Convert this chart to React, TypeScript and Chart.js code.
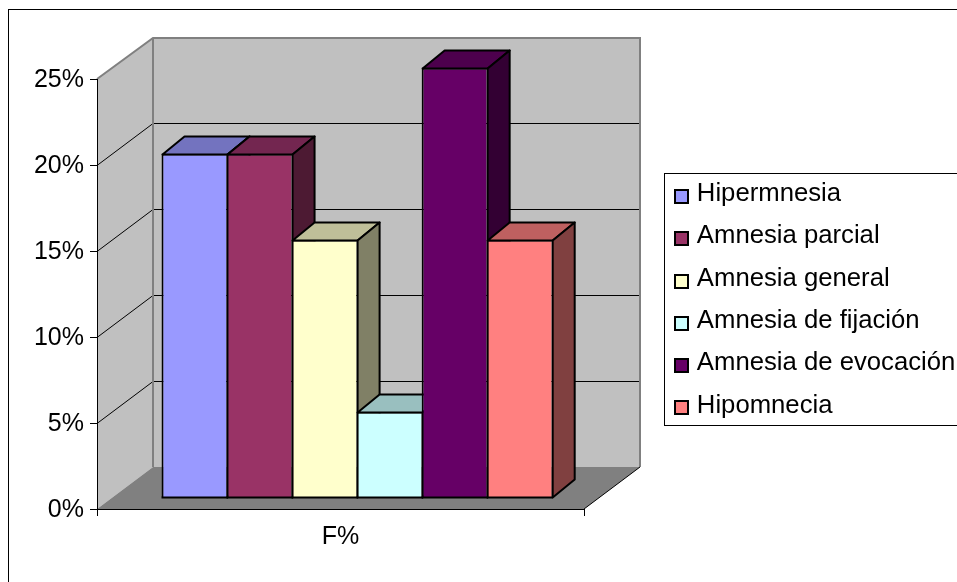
import React, { useEffect, useRef } from "react";
import { Chart, registerables } from "chart.js";

Chart.register(...registerables);

const categories = ["F%"];
const seriesNames = ["Hipermnesia", "Amnesia parcial", "Amnesia general", "Amnesia de fijación", "Amnesia de evocación", "Hipomnecia"];
const seriesValues = [20, 20, 15, 5, 25, 15];
const frontColors = ["#9999FF", "#993366", "#FFFFCC", "#CCFFFF", "#660066", "#FF8080"];
const topColors = ["#7373BF", "#732650", "#BFBF99", "#99BFBF", "#4D004D", "#BF6060"];
const sideColors = ["#4D4D80", "#4D1A33", "#808066", "#668080", "#330033", "#804040"];
const yTicks = [0, 5, 10, 15, 20, 25];

const FONT = "'Liberation Sans', Arial, sans-serif";
const WALL_DX = 56;
const WALL_DY = -42;
const BAR_SHIFT_X = 16.1;
const BAR_SHIFT_Y = -11.5;
const BAR_DX = 22;
const BAR_DY = -18;

const depthPlugin = {
  id: "depth",
  beforeDraw(chart: any) {
    const { ctx, chartArea: a, scales } = chart;
    const y = scales.y;
    ctx.save();
    ctx.fillStyle = "#fff";
    ctx.fillRect(0, 0, chart.width, chart.height);
    ctx.strokeStyle = "#000";
    ctx.lineWidth = 1;
    ctx.strokeRect(8.5, 9.5, 1000, 1000);
    const poly = (pts: number[][], fill: string) => {
      ctx.beginPath();
      pts.forEach((p, i) => (i ? ctx.lineTo(p[0], p[1]) : ctx.moveTo(p[0], p[1])));
      ctx.closePath();
      ctx.fillStyle = fill;
      ctx.fill();
    };
    const L = a.left, R = a.right, T = y.getPixelForValue(25), B = y.getPixelForValue(0);
    const BX = L + WALL_DX, RX = R + WALL_DX, TY = T + WALL_DY + 1, BY = B + WALL_DY;
    poly([[L, B], [BX, BY], [BX, TY], [L, T]], "#C0C0C0");
    poly([[BX, TY], [RX, TY], [RX, BY], [BX, BY]], "#C0C0C0");
    poly([[L, B], [BX, BY], [RX, BY], [R, B]], "#808080");
    ctx.strokeStyle = "#000";
    ctx.lineWidth = 1;
    yTicks.slice(1, -1).forEach((v) => {
      const py = Math.round(y.getPixelForValue(v)) + 0.5;
      ctx.beginPath();
      ctx.moveTo(L, py);
      ctx.lineTo(BX, py + WALL_DY);
      ctx.lineTo(RX, py + WALL_DY);
      ctx.stroke();
    });
    ctx.strokeStyle = "#808080";
    ctx.lineWidth = 2;
    ctx.beginPath();
    ctx.moveTo(L, T);
    ctx.lineTo(BX, TY);
    ctx.lineTo(RX, TY);
    ctx.lineTo(RX, BY);
    ctx.moveTo(BX, TY);
    ctx.lineTo(BX, BY);
    ctx.stroke();
    ctx.strokeStyle = "#000";
    ctx.lineWidth = 1;
    ctx.beginPath();
    ctx.moveTo(R, B);
    ctx.lineTo(RX, BY);
    ctx.stroke();
    ctx.restore();
  },
  // Bars are painted left to right in afterDatasetsDraw, so each one overlaps the side of the previous.
  beforeDatasetDraw() {
    return false;
  },
  afterDatasetsDraw(chart: any) {
    const ctx = chart.ctx;
    ctx.save();
    ctx.translate(BAR_SHIFT_X, BAR_SHIFT_Y);
    seriesNames.forEach((_, i) => {
      const meta = chart.getDatasetMeta(i);
      const el = meta.data[0];
      el.draw(ctx);
      const { x, y, width } = el.getProps(["x", "y", "width"], true);
      const l = x - width / 2 + 1, r = x + width / 2 + 1, t = y + 1, b = meta.vScale.getPixelForValue(0);
      const shape = (pts: number[][], fill: string) => {
        ctx.beginPath();
        pts.forEach((p, n) => (n ? ctx.lineTo(p[0], p[1]) : ctx.moveTo(p[0], p[1])));
        ctx.closePath();
        ctx.fillStyle = fill;
        ctx.fill();
        ctx.strokeStyle = "#000";
        ctx.lineWidth = 2;
        ctx.lineJoin = "round";
        ctx.stroke();
      };
      shape([[l, t], [l + BAR_DX, t + BAR_DY], [r + BAR_DX, t + BAR_DY], [r, t]], topColors[i]);
      shape([[r, t], [r + BAR_DX, t + BAR_DY], [r + BAR_DX, b + BAR_DY], [r, b]], sideColors[i]);
      ctx.beginPath();
      ctx.moveTo(l - 1, b);
      ctx.lineTo(r, b);
      ctx.stroke();
    });
    ctx.restore();
  },
  afterLayout(chart: any) {
    const lg = chart.legend;
    if (!lg) return;
    const w = lg.width, h = lg.height;
    lg.left = 657.4;
    lg.top = 164.5;
    lg.right = lg.left + w;
    lg.bottom = lg.top + h;
    lg.adjustHitBoxes();
  },
  afterDraw(chart: any) {
    const { ctx, legend } = chart;
    ctx.save();
    ctx.strokeStyle = "#000";
    ctx.lineWidth = 1;
    ctx.strokeRect(664.5, 173.5, 400, 252);
    // legend swatches sit a little below the centre of their text
    legend.legendHitBoxes.forEach((hit: any, i: number) => {
      const top = Math.round(hit.top + hit.height / 2 - 4);
      ctx.fillStyle = frontColors[i];
      ctx.strokeStyle = "#000";
      ctx.lineWidth = 2;
      ctx.fillRect(675, top, 13, 13);
      ctx.strokeRect(675, top, 13, 13);
    });
    ctx.restore();
  },
};

export default function App() {
  const ref = useRef<HTMLCanvasElement>(null);
  useEffect(() => {
    const chart = new Chart(ref.current as HTMLCanvasElement, {
      type: "bar",
      data: {
        labels: categories,
        datasets: seriesNames.map((name, i) => ({
          label: name,
          data: [seriesValues[i]],
          backgroundColor: frontColors[i],
          borderColor: "#000",
          borderWidth: { left: 2, top: 2, bottom: 0, right: 0 },
          borderSkipped: false,
        })),
      },
      options: {
        animation: false,
        responsive: false,
        devicePixelRatio: 1,
        layout: { padding: { top: 79, right: 373, left: 0, bottom: 0 } },
        datasets: { bar: { categoryPercentage: 0.8012, barPercentage: 1 } },
        scales: {
          x: {
            grid: { drawOnChartArea: false, drawTicks: true, tickLength: 7, tickColor: "#000", offset: true },
            border: { color: "#000", width: 1 },
            ticks: { color: "#000", padding: 6, font: { family: FONT, size: 25 } },
            afterFit: (s: any) => { s.height = 73; },
          },
          y: {
            min: 0,
            max: 25,
            grid: { drawOnChartArea: false, drawTicks: true, tickLength: 7, tickColor: "#000" },
            border: { color: "#000", width: 1 },
            ticks: {
              stepSize: 5,
              color: "#000",
              padding: 6,
              labelOffset: 1.5,
              font: { family: FONT, size: 25 },
              callback: (v: any) => `${v}%`,
            },
            afterFit: (s: any) => { s.width = 97; },
          },
        },
        plugins: {
          tooltip: { enabled: false },
          legend: {
            position: "chartArea" as any,
            align: "start",
            labels: {
              boxWidth: 10,
              boxHeight: 10,
              padding: 16.6,
              color: "#000",
              font: { family: FONT, size: 25.7, lineHeight: 1.2 },
              generateLabels: (c: any) =>
                Chart.defaults.plugins.legend.labels.generateLabels(c).map((it: any) => ({
                  ...it,
                  fillStyle: "transparent",
                  strokeStyle: "transparent",
                })),
            },
          },
        },
      } as any,
      plugins: [depthPlugin],
    });
    return () => chart.destroy();
  }, []);
  return (
    <div style={{ position: "absolute", left: 0, top: 0, width: 957, height: 582 }}>
      <canvas ref={ref} width={957} height={582} style={{ display: "block" }} />
    </div>
  );
}
